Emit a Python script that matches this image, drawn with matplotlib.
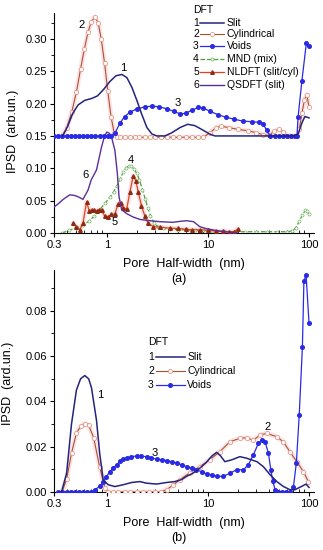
import numpy as np
import matplotlib
matplotlib.use("Agg")
import matplotlib.pyplot as plt
from matplotlib.ticker import FixedLocator, LogLocator, MultipleLocator, NullFormatter, FormatStrFormatter

plt.rcParams['font.family'] = ['Liberation Sans', 'DejaVu Sans']

#%% Data  (x = pore half-width nm, y = IPSD)

# panel (a): curves 1-3 are drawn shifted up by 0.15
offset_a = 0.15

a_slit = np.array([
    [0.366, 0.000], [0.41, 0.015], [0.46, 0.035], [0.52, 0.048], [0.605, 0.055],
    [0.71, 0.058], [0.81, 0.062], [0.93, 0.072], [1.07, 0.084], [1.23, 0.093],
    [1.41, 0.095], [1.58, 0.090], [1.77, 0.075], [1.98, 0.055], [2.22, 0.033],
    [2.49, 0.013], [2.79, 0.003], [3.12, 0.000], [3.75, 0.000], [4.4, 0.005],
    [5.3, 0.013], [6.3, 0.018], [7.4, 0.016], [8.7, 0.010], [10.4, 0.003],
    [11.7, 0.000], [20, 0.000], [40, 0.000], [72, 0.000], [78, 0.003],
    [85, 0.020], [91, 0.030], [100, 0.028]])

a_cyl = np.array([
    [0.36, 0.000], [0.40, 0.012], [0.45, 0.037], [0.50, 0.068], [0.55, 0.104],
    [0.60, 0.135], [0.65, 0.160], [0.70, 0.176], [0.76, 0.184], [0.82, 0.175],
    [0.88, 0.150], [0.95, 0.112], [1.02, 0.070], [1.10, 0.030], [1.18, 0.005],
    [1.25, -0.002], [1.35, -0.002], [1.5, -0.002], [1.7, -0.002], [1.9, -0.002],
    [2.1, -0.002], [2.4, -0.002], [2.7, -0.002], [3.0, -0.002], [3.4, -0.002],
    [3.9, -0.002], [4.5, -0.002], [5.2, -0.002], [6.0, -0.002], [7.0, -0.002],
    [8.0, -0.002], [9.0, -0.002], [10.5, 0.005], [12, 0.013], [13.5, 0.015],
    [16, 0.013], [20, 0.010], [25, 0.008], [30, 0.005], [35, 0.002],
    [40, 0.001], [45, 0.007], [50, 0.010], [55, 0.006], [62, 0.000],
    [70, 0.000], [75, 0.000], [80, 0.010], [85, 0.035], [90, 0.055],
    [95, 0.064], [100, 0.045]])

a_void = np.array([
    [0.30, 0.0], [0.33, 0.0], [0.36, 0.0], [0.40, 0.0], [0.44, 0.0], [0.48, 0.0],
    [0.53, 0.0], [0.58, 0.0], [0.64, 0.0], [0.70, 0.0], [0.77, 0.0], [0.85, 0.0],
    [0.93, 0.0], [1.02, 0.0], [1.1, 0.0], [1.2, 0.004], [1.35, 0.020],
    [1.5, 0.030], [1.7, 0.037], [2.0, 0.042], [2.4, 0.045], [2.8, 0.046],
    [3.3, 0.045], [3.9, 0.042], [4.6, 0.038], [5.3, 0.034], [6.0, 0.035],
    [7.0, 0.040], [8.0, 0.044], [9.0, 0.043], [10.5, 0.038], [12.5, 0.033],
    [15, 0.029], [18, 0.026], [22, 0.023], [27, 0.022], [32, 0.021],
    [35, 0.019], [38, 0.009], [41, 0.000], [46, 0.0], [50, 0.0], [55, 0.0],
    [60, 0.0], [66, 0.0], [72, 0.0], [76, 0.0], [78, 0.030], [85, 0.085],
    [94, 0.143], [100, 0.139]])

a_mnd = np.array([
    [0.36, 0.000], [0.42, 0.004], [0.50, 0.008], [0.58, 0.012], [0.66, 0.018],
    [0.75, 0.026], [0.85, 0.036], [0.96, 0.046], [1.07, 0.055], [1.17, 0.064],
    [1.25, 0.072], [1.35, 0.083], [1.45, 0.094], [1.55, 0.101], [1.65, 0.104],
    [1.75, 0.103], [1.85, 0.099], [1.98, 0.092], [2.1, 0.082], [2.25, 0.067],
    [2.4, 0.052], [2.55, 0.038], [2.7, 0.027], [2.9, 0.016], [3.2, 0.010],
    [3.6, 0.007], [4.2, 0.006], [5, 0.005], [6, 0.005], [7.5, 0.004],
    [9, 0.004], [11, 0.003], [14, 0.003], [18, 0.002], [23, 0.002],
    [30, 0.002], [38, 0.002], [48, 0.002], [60, 0.002], [68, 0.003],
    [74, 0.008], [80, 0.018], [86, 0.028], [92, 0.035], [96, 0.034], [100, 0.029]])

a_nldft = np.array([
    [0.464, 0.015], [0.50, 0.010], [0.54, 0.005], [0.58, 0.015], [0.63, 0.048],
    [0.67, 0.034], [0.705, 0.036], [0.75, 0.035], [0.79, 0.034], [0.84, 0.036],
    [0.886, 0.035], [0.955, 0.026], [1.03, 0.025], [1.11, 0.029], [1.2, 0.029],
    [1.29, 0.045], [1.37, 0.047], [1.45, 0.039], [1.57, 0.037], [1.69, 0.063],
    [1.82, 0.088], [1.94, 0.080], [2.04, 0.064], [2.2, 0.042], [2.38, 0.026],
    [2.57, 0.015], [2.87, 0.010], [3.35, 0.009], [4.2, 0.0075], [5.0, 0.007],
    [6.0, 0.006], [7.0, 0.005], [8.3, 0.005], [10, 0.004], [12, 0.003],
    [14, 0.003], [16, 0.002], [18, 0.002], [19.8, 0.006]])

a_qsdft = np.array([
    [0.30, 0.040], [0.33, 0.045], [0.37, 0.052], [0.43, 0.059], [0.48, 0.058],
    [0.52, 0.056], [0.58, 0.052], [0.65, 0.066], [0.70, 0.082], [0.79, 0.0975],
    [0.886, 0.133], [0.95, 0.150], [1.0, 0.156], [1.06, 0.154], [1.11, 0.149],
    [1.2, 0.128], [1.27, 0.092], [1.32, 0.056], [1.4, 0.036], [1.57, 0.030],
    [1.8, 0.025], [2.12, 0.021], [2.66, 0.019], [3.35, 0.0175], [4.5, 0.0165],
    [5.3, 0.018], [6.15, 0.019], [7.2, 0.0175], [8.3, 0.0098], [9.5, 0.007],
    [11.3, 0.0046], [14, 0.002], [17.8, 0.001], [20, 0.0]])

# panel (b)
b_slit = np.array([
    [0.356, 0.000], [0.40, 0.0083], [0.447, 0.030], [0.50, 0.045], [0.55, 0.050],
    [0.605, 0.0514], [0.66, 0.050], [0.705, 0.046], [0.79, 0.0316], [0.85, 0.017],
    [0.92, 0.0054], [1.03, 0.0032], [1.2, 0.0024], [1.45, 0.0032], [1.76, 0.0042],
    [2.12, 0.0046], [2.47, 0.0039], [3.1, 0.0035], [3.9, 0.0042], [4.7, 0.0046],
    [5.5, 0.0055], [6.2, 0.007], [7.1, 0.0083], [8.3, 0.0105], [9.6, 0.013],
    [11, 0.016], [12.2, 0.0175], [13.3, 0.016], [14.7, 0.0134], [17.2, 0.0142],
    [20.7, 0.0156], [24.2, 0.0149], [30.5, 0.0134], [35.3, 0.0112], [41.2, 0.0076],
    [48, 0.0046], [55.5, 0.0025], [64.7, 0.001], [72.5, 0.001], [84.7, 0.0025],
    [93.5, 0.0035], [100, 0.002]])

b_cyl = np.array([
    [0.36, 0.000], [0.40, 0.0056], [0.447, 0.0172], [0.50, 0.026], [0.55, 0.029],
    [0.605, 0.0302], [0.66, 0.0295], [0.74, 0.024], [0.85, 0.011], [0.955, 0.0017],
    [1.03, 0.0], [1.15, 0.0], [1.3, 0.0], [1.5, 0.0], [1.7, 0.0], [2.0, 0.0],
    [2.3, 0.0], [2.6, 0.0], [3.0, 0.0], [3.4, 0.0], [3.9, 0.001], [4.5, 0.003],
    [5.3, 0.0055], [6.6, 0.0085], [8.3, 0.0112], [10.4, 0.0142], [13.1, 0.0178],
    [16.5, 0.0222], [20.7, 0.0237], [24.2, 0.024], [28.1, 0.0228], [32.6, 0.0251],
    [38, 0.0259], [48, 0.0244], [55.5, 0.0222], [64.7, 0.0178], [75.5, 0.0134],
    [88, 0.009], [98.5, 0.0046]])

b_void = np.array([
    [0.33, 0.0], [0.36, 0.0], [0.40, 0.0], [0.44, 0.0], [0.48, 0.0], [0.53, 0.0],
    [0.58, 0.0], [0.64, 0.0], [0.70, 0.0], [0.76, 0.001], [0.85, 0.0025],
    [0.92, 0.0046], [0.99, 0.0068], [1.07, 0.009], [1.15, 0.0105], [1.25, 0.012],
    [1.35, 0.0135], [1.45, 0.0145], [1.57, 0.0150], [1.75, 0.0156], [1.97, 0.0159],
    [2.2, 0.0158], [2.47, 0.0156], [2.75, 0.0151], [3.1, 0.0145], [3.5, 0.0142],
    [3.9, 0.0139], [4.4, 0.0133], [4.9, 0.0127], [5.5, 0.0120], [6.15, 0.0112],
    [6.9, 0.0105], [7.7, 0.0098], [8.7, 0.0089], [9.7, 0.008], [11, 0.0074],
    [12.2, 0.0069], [14.2, 0.0069], [16.5, 0.0083], [19.2, 0.0098], [22.4, 0.0098],
    [25.1, 0.012], [28.1, 0.0164], [31.6, 0.0215], [34.1, 0.0229], [36.7, 0.0222],
    [39.7, 0.0171], [41.9, 0.0098], [43.8, 0.0047], [46.2, 0.001], [49.8, 0.0],
    [54, 0.0], [59, 0.0], [65, 0.0], [70, 0.002], [75, 0.013], [80, 0.034],
    [86, 0.064], [89, 0.093], [93.5, 0.096], [100, 0.0745]])

# curve number labels: (text, x, y)
a_labels = [("2", 0.565, 0.322), ("1", 1.44, 0.255), ("3", 5.05, 0.201),
            ("4", 1.73, 0.113), ("6", 0.62, 0.0898), ("5", 1.2, 0.017)]
b_labels = [("1", 0.85, 0.0429), ("2", 38.5, 0.0288), ("3", 2.99, 0.0173)]

#%% Styles
navy = '#24247f'
st_slit = dict(color=navy, lw=1.1)
st_cyl = dict(color='#a8522e', lw=0.8, marker='o', ms=3, mfc='white', mec='#e59a86', mew=0.6)
st_void = dict(color='#2a2ae6', lw=0.9, marker='o', ms=2.6, mfc='#2a2ae6', mec='#2a2ae6')
st_mnd = dict(color='#4f9e3c', lw=0.9, ls='--', marker='o', ms=2.2, mfc='white', mec='#6fb55c', mew=0.5)
st_nldft = dict(color='#d9471c', lw=0.9, marker='^', ms=2.6, mfc='#8e2a12', mec='#8e2a12')
st_qsdft = dict(color='#5a2e9c', lw=1.0)
band = dict(color='#fde3e8', lw=3.5, solid_capstyle='round', zorder=1)


def style_axis(ax, ymax, ymajor, yminor, ylabel):
    ax.set_xscale('log')
    ax.set_xlim(0.3, 112)
    ax.set_ylim(0, ymax)
    ax.xaxis.set_major_locator(FixedLocator([0.3, 1, 10, 100]))
    ax.set_xticklabels(['0.3', '1', '10', '100'])
    ax.xaxis.set_minor_locator(LogLocator(base=10, subs=np.arange(2, 10)))
    ax.xaxis.set_minor_formatter(NullFormatter())
    ax.yaxis.set_major_locator(MultipleLocator(ymajor))
    ax.yaxis.set_minor_locator(MultipleLocator(yminor))
    ax.yaxis.set_major_formatter(FormatStrFormatter('%.2f'))
    for s in ['top', 'right']:
        ax.spines[s].set_visible(False)
    for s in ['left', 'bottom']:
        ax.spines[s].set_linewidth(0.8)
    ax.tick_params(which='major', labelsize=8, length=3, width=0.8, pad=2)
    ax.tick_params(which='minor', length=2, width=0.6)
    ax.tick_params(axis='x', which='minor', direction='in')
    ax.set_xlabel('Pore  Half-width  (nm)', fontsize=9, labelpad=6)
    ax.set_ylabel(ylabel, fontsize=9)


def draw_key(ax, x0, y_title, rows, ys, x_line, x_text):
    ax.text(x0, y_title, 'DFT', transform=ax.transAxes, fontsize=7.5, va='center')
    for (num, name, st), y in zip(rows, ys):
        ax.text(x0, y, num, transform=ax.transAxes, fontsize=7.5, va='center')
        xm = 0.5 * (x_line[0] + x_line[1])
        ax.plot([x_line[0], xm, x_line[1]], [y, y, y], transform=ax.transAxes,
                markevery=[1], clip_on=False, **st)
        ax.text(x_text, y, name, transform=ax.transAxes, fontsize=7.5, va='center')


fig = plt.figure(figsize=(3.23, 5.5), dpi=100)
ax_a = fig.add_axes([54 / 323, 1 - 233 / 550, 260 / 323, 220 / 550])
ax_b = fig.add_axes([54 / 323, 1 - 492 / 550, 260 / 323, 222 / 550])
ax_b.patch.set_visible(False)

#%% Panel (a)
ax_a.plot(a_cyl[:, 0], a_cyl[:, 1] + offset_a, **band)
ax_a.plot(a_nldft[:, 0], a_nldft[:, 1], **band)
ax_a.plot(a_mnd[:, 0], a_mnd[:, 1], zorder=2, **st_mnd)
ax_a.plot(a_nldft[:, 0], a_nldft[:, 1], zorder=3, **st_nldft)
ax_a.plot(a_qsdft[:, 0], a_qsdft[:, 1], zorder=3, **st_qsdft)
ax_a.plot(a_cyl[:, 0], a_cyl[:, 1] + offset_a, zorder=3, **st_cyl)
ax_a.plot(a_void[:, 0], a_void[:, 1] + offset_a, zorder=4, **st_void)
ax_a.plot(a_slit[:, 0], a_slit[:, 1] + offset_a, zorder=5, **st_slit)
for t, x, y in a_labels:
    ax_a.text(x, y, t, fontsize=8, ha='center', va='center')

style_axis(ax_a, 0.34, 0.05, 0.025, 'IPSD  (arb.un.)')
ax_a.yaxis.set_label_coords(-0.135, 0.46)
ax_a.text(0.48, -0.21, '(a)', transform=ax_a.transAxes, fontsize=9, ha='center', va='center')

rows_a = [("1", "Slit", st_slit), ("2", "Cylindrical", st_cyl), ("3", "Voids", st_void),
          ("4", "MND (mix)", st_mnd), ("5", "NLDFT (slit/cyl)", st_nldft),
          ("6", "QSDFT (slit)", st_qsdft)]
draw_key(ax_a, 0.535, 1.014, rows_a, [0.955, 0.905, 0.85, 0.79, 0.732, 0.675],
         (0.561, 0.655), 0.664)

#%% Panel (b)
ax_b.plot(b_cyl[:, 0], b_cyl[:, 1], **band)
ax_b.plot(b_cyl[:, 0], b_cyl[:, 1], zorder=3, **st_cyl)
ax_b.plot(b_void[:, 0], b_void[:, 1], zorder=4, **st_void)
ax_b.plot(b_slit[:, 0], b_slit[:, 1], zorder=5, **st_slit)
for t, x, y in b_labels:
    ax_b.text(x, y, t, fontsize=8, ha='center', va='center')

style_axis(ax_b, 0.098, 0.02, 0.01, 'IPSD  (ard.un.)')
ax_b.yaxis.set_label_coords(-0.155, 0.49)
ax_b.text(0.48, -0.205, '(b)', transform=ax_b.transAxes, fontsize=9, ha='center', va='center')

rows_b = [("1", "Slit", st_slit), ("2", "Cylindrical", st_cyl), ("3", "Voids", st_void)]
draw_key(ax_b, 0.362, 0.677, rows_b, [0.608, 0.545, 0.482], (0.392, 0.504), 0.512)

fig.savefig('out.png', dpi=100)
